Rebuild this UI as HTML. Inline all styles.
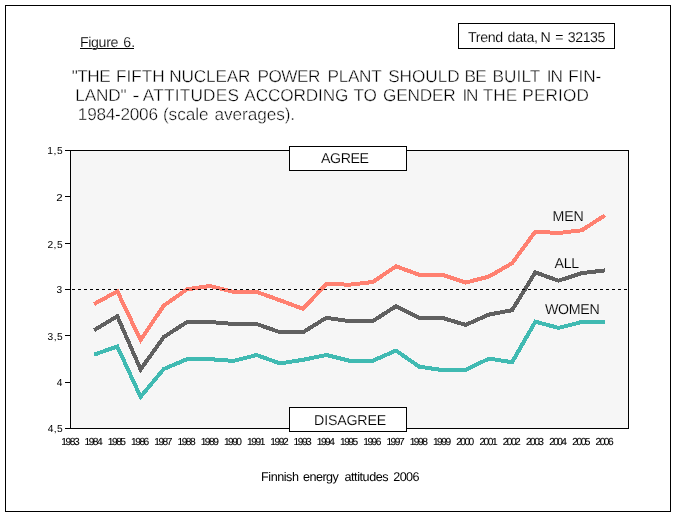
<!DOCTYPE html>
<html lang="en">
<head>
<meta charset="utf-8">
<title>Figure 6</title>
<style>
html,body{margin:0;padding:0;background:#fff;}
body{width:676px;height:516px;overflow:hidden;position:relative;}
svg{position:absolute;left:0;top:0;display:block;will-change:transform;}
text{font-family:"Liberation Sans",Arial,sans-serif;fill:#000;white-space:pre;text-rendering:geometricPrecision;}
</style>
</head>
<body>
<svg width="676" height="516" viewBox="0 0 676 516">
<rect x="0" y="0" width="676" height="516" fill="#fff"/>
<!-- outer frame -->
<rect x="5.5" y="5.5" width="665" height="506" fill="none" stroke="#000" stroke-width="1" shape-rendering="crispEdges"/>
<!-- plot area -->
<rect x="70.5" y="150.5" width="558" height="278" fill="#f6f6f6" stroke="#000" shape-rendering="crispEdges"/>
<g fill="#000" shape-rendering="crispEdges"><rect x="65" y="150" width="5" height="1"/><rect x="65" y="196" width="5" height="1"/><rect x="65" y="243" width="5" height="1"/><rect x="65" y="289" width="5" height="1"/><rect x="65" y="335" width="5" height="1"/><rect x="65" y="382" width="5" height="1"/><rect x="65" y="428" width="5" height="1"/></g>
<!-- series -->
<g fill="none" stroke-width="4" stroke-linejoin="miter" stroke-linecap="butt" shape-rendering="crispEdges">
<polyline stroke="#ff8070" points="94.1,304.1 117.3,291.3 140.6,340.0 163.8,305.6 187.0,289.3 210.2,286.0 233.4,291.8 256.7,291.9 279.9,300.3 303.1,308.8 326.3,283.9 349.5,284.7 372.8,282.0 396.0,266.3 419.2,274.8 442.4,274.7 465.6,282.6 488.9,276.6 512.1,263.2 535.3,231.6 558.5,233.0 581.7,230.3 605.0,215.3"/>
<polyline stroke="#606060" points="94.1,330.2 117.3,316.2 140.6,369.4 163.8,337.0 187.0,322.0 210.2,322.0 233.4,324.0 256.7,324.0 279.9,332.2 303.1,332.2 326.3,317.8 349.5,321.1 372.8,321.1 396.0,306.2 419.2,317.8 442.4,317.9 465.6,324.9 488.9,314.6 512.1,310.2 535.3,272.4 558.5,280.7 581.7,273.1 605.0,270.4"/>
<polyline stroke="#40bab2" points="94.1,354.6 117.3,346.5 140.6,396.8 163.8,369.0 187.0,359.2 210.2,359.2 233.4,360.9 256.7,355.0 279.9,363.4 303.1,359.8 326.3,355.0 349.5,360.7 372.8,360.7 396.0,350.6 419.2,366.7 442.4,370.1 465.6,370.1 488.9,358.6 512.1,362.2 535.3,321.7 558.5,327.9 581.7,322.0 605.0,322.0"/>
</g>
<line x1="72" y1="289.5" x2="628" y2="289.5" stroke="#000" stroke-width="1" stroke-dasharray="3 3" shape-rendering="crispEdges"/>
<!-- boxes -->
<g fill="#fff" stroke="#000" shape-rendering="crispEdges">
<rect x="458.5" y="23.5" width="156" height="25"/>
<rect x="289.5" y="146.5" width="117" height="24"/>
<rect x="289.5" y="407.5" width="117" height="24"/>
</g>
<!-- underline of figure number -->
<rect x="80" y="48" width="54" height="1" fill="#000" shape-rendering="crispEdges"/>
<!-- text -->
<text y="82" font-size="17.2" stroke="#fff" stroke-width="0.38"><tspan x="71.66" letter-spacing="-0.48">&quot;THE</tspan> <tspan x="115.96" letter-spacing="0.03">FIFTH</tspan> <tspan x="169.36" letter-spacing="-0.16">NUCLEAR</tspan> <tspan x="257.56" letter-spacing="-0.53">POWER</tspan> <tspan x="327.56" letter-spacing="-0.33">PLANT</tspan> <tspan x="388.16" letter-spacing="-0.03">SHOULD</tspan> <tspan x="464.56" letter-spacing="-0.68">BE</tspan> <tspan x="492.46" letter-spacing="0.12">BUILT</tspan> <tspan x="546.76" letter-spacing="-1.15">IN</tspan> <tspan x="568.26" letter-spacing="-0.16">FIN-</tspan></text>
<text y="101" font-size="17.2" stroke="#fff" stroke-width="0.38"><tspan x="75.36" letter-spacing="-0.15">LAND&quot;</tspan> <tspan x="132.21" textLength="7.40" lengthAdjust="spacingAndGlyphs">-</tspan> <tspan x="142.80" letter-spacing="0.23">ATTITUDES</tspan> <tspan x="244.30" letter-spacing="-0.12">ACCORDING</tspan> <tspan x="353.43" letter-spacing="-0.06">TO</tspan> <tspan x="382.99" letter-spacing="-0.18">GENDER</tspan> <tspan x="462.46" letter-spacing="-1.25">IN</tspan> <tspan x="482.83" letter-spacing="-0.05">THE</tspan> <tspan x="522.36" letter-spacing="0.12">PERIOD</tspan></text>
<text y="120" font-size="17.2" stroke="#fff" stroke-width="0.38"><tspan x="77.83" letter-spacing="-0.26">1984-2006</tspan> <tspan x="162.89" letter-spacing="-0.02">(scale</tspan> <tspan x="214.46" letter-spacing="-0.06">averages).</tspan></text>
<text y="47" font-size="14.2" stroke="#fff" stroke-width="0.14"><tspan x="79.89" letter-spacing="-0.33">Figure</tspan> <tspan x="123.13" letter-spacing="0.21">6.</tspan></text>
<text y="42" font-size="14.2" stroke="#fff" stroke-width="0.14"><tspan x="467.98" letter-spacing="-0.34">Trend</tspan> <tspan x="507.56" letter-spacing="-0.29">data,</tspan> <tspan x="540.59">N</tspan> <tspan x="555.23">=</tspan> <tspan x="567.76" letter-spacing="-0.44">32135</tspan></text>
<text y="163" font-size="14.2" stroke="#fff" stroke-width="0.14"><tspan x="321.00" letter-spacing="-0.43">AGREE</tspan></text>
<text y="425" font-size="14.2" stroke="#fff" stroke-width="0.14"><tspan x="314.09" letter-spacing="-0.18">DISAGREE</tspan></text>
<text y="221" font-size="14.2" stroke="#f6f6f6" stroke-width="0.14"><tspan x="552.49" letter-spacing="-0.14">MEN</tspan></text>
<text y="268" font-size="14.2" stroke="#f6f6f6" stroke-width="0.14"><tspan x="554.40" letter-spacing="-0.21">ALL</tspan></text>
<text y="314" font-size="14.2" stroke="#f6f6f6" stroke-width="0.14"><tspan x="545.00" letter-spacing="-0.31">WOMEN</tspan></text>
<text y="481" font-size="12.6"><tspan x="261.02" letter-spacing="-0.44">Finnish</tspan> <tspan x="303.11" letter-spacing="-0.57">energy</tspan> <tspan x="344.41" letter-spacing="-0.42">attitudes</tspan> <tspan x="393.21" letter-spacing="-0.58">2006</tspan></text>
<text y="445" font-size="10.2" stroke="#000" stroke-width="0.12"><tspan x="61.36" letter-spacing="-1.48">1983</tspan> <tspan x="84.58" letter-spacing="-1.53">1984</tspan> <tspan x="107.80" letter-spacing="-1.48">1985</tspan> <tspan x="131.02" letter-spacing="-1.48">1986</tspan> <tspan x="154.24" letter-spacing="-1.48">1987</tspan> <tspan x="177.46" letter-spacing="-1.48">1988</tspan> <tspan x="200.68" letter-spacing="-1.48">1989</tspan> <tspan x="223.90" letter-spacing="-1.53">1990</tspan> <tspan x="247.12" letter-spacing="-1.48">1991</tspan> <tspan x="270.34" letter-spacing="-1.48">1992</tspan> <tspan x="293.56" letter-spacing="-1.48">1993</tspan> <tspan x="316.78" letter-spacing="-1.53">1994</tspan> <tspan x="340.00" letter-spacing="-1.48">1995</tspan> <tspan x="363.22" letter-spacing="-1.48">1996</tspan> <tspan x="386.44" letter-spacing="-1.48">1997</tspan> <tspan x="409.66" letter-spacing="-1.48">1998</tspan> <tspan x="432.88" letter-spacing="-1.48">1999</tspan> <tspan x="456.26" letter-spacing="-1.59">2000</tspan> <tspan x="479.48" letter-spacing="-1.53">2001</tspan> <tspan x="502.70" letter-spacing="-1.53">2002</tspan> <tspan x="525.92" letter-spacing="-1.53">2003</tspan> <tspan x="549.14" letter-spacing="-1.59">2004</tspan> <tspan x="572.36" letter-spacing="-1.53">2005</tspan> <tspan x="595.58" letter-spacing="-1.53">2006</tspan></text>
<text y="154" font-size="10.2"><tspan x="47.26" letter-spacing="0.59">1,5</tspan></text>
<text y="201" font-size="10.2"><tspan x="56.26" textLength="6.41" lengthAdjust="spacingAndGlyphs">2</tspan></text>
<text y="247.6" font-size="10.2"><tspan x="47.42" letter-spacing="0.51">2,5</tspan></text>
<text y="293" font-size="10.2"><tspan x="56.48">3</tspan></text>
<text y="340" font-size="10.2"><tspan x="47.58" letter-spacing="0.43">3,5</tspan></text>
<text y="386" font-size="10.2"><tspan x="56.64">4</tspan></text>
<text y="432" font-size="10.2"><tspan x="47.74" letter-spacing="0.35">4,5</tspan></text>


</svg>
</body>
</html>
